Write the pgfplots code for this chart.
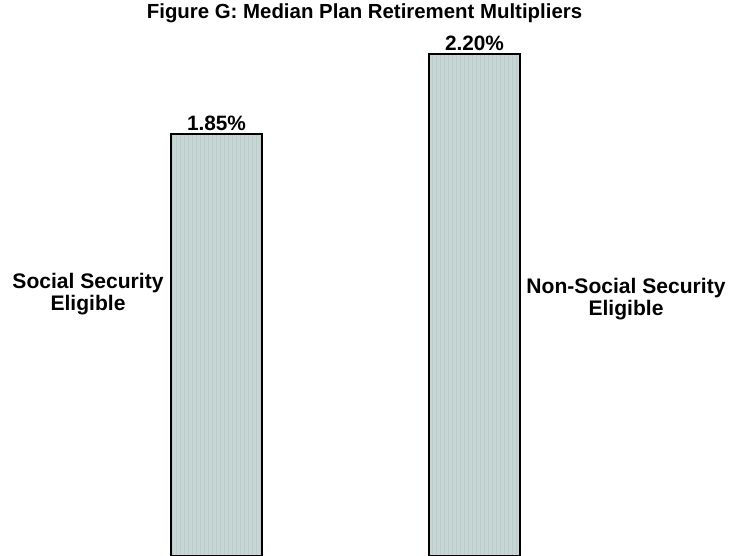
\documentclass[border=0pt]{standalone}
\usepackage{pgfplots}
\pgfplotsset{compat=1.18}
\usetikzlibrary{patterns}
\usepackage{fontspec}
\setmainfont{Liberation Sans}
\definecolor{barfill}{RGB}{200,215,213}
\definecolor{stripe}{RGB}{186,203,201}
\begin{document}
\begin{tikzpicture}[x=0.75pt,y=0.75pt]
\begin{axis}[
  scale only axis,
  width=546.75pt, height=417pt,
  xmin=0, xmax=729,
  ymin=0.004, ymax=2.4362,
  hide axis,
  clip=true,
  /pgf/number format/assume math mode=true,
  ybar, bar shift=0pt, bar width=91,
  nodes near coords={\pgfmathprintnumber[fixed,precision=2,fixed zerofill,assume math mode=true]{\pgfplotspointmeta}\%},
  every node near coord/.append style={font=\bfseries\fontsize{15.6}{18}\selectfont, text=black, yshift=-1pt},
]
\addplot[draw=black, line width=0.8pt, fill=barfill, postaction={pattern=vertical lines, pattern color=stripe}]
  coordinates {(216.5,1.85) (474.5,2.20)};
\node[font=\bfseries\fontsize{15.3}{18}\selectfont, anchor=base] at (rel axis cs:0.5,{1-19/556}) {Figure G: Median Plan Retirement Multipliers};
\node[font=\bfseries\fontsize{15.8}{16.5}\selectfont, align=center] at (rel axis cs:{88/729},{1-294/556}) {Social Security\\Eligible};
\node[font=\bfseries\fontsize{15.8}{16.5}\selectfont, align=center] at (rel axis cs:{626/729},{1-299/556}) {Non-Social Security\\Eligible};
\useasboundingbox (rel axis cs:0,0) rectangle (rel axis cs:1,1);
\end{axis}
\end{tikzpicture}
\end{document}
